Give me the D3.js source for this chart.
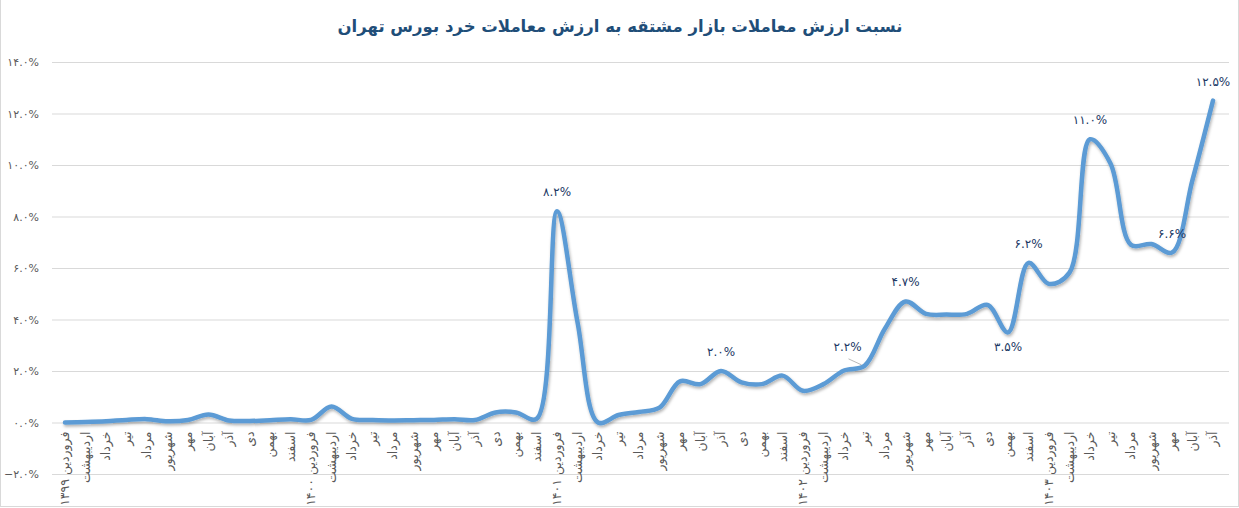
<!DOCTYPE html>
<html>
<head>
<meta charset="utf-8">
<script src="https://cdn.jsdelivr.net/npm/d3@7"></script>
<style>
  html, body { margin: 0; padding: 0; background: #fff; }
  svg { display: block; font-family: "DejaVu Sans", sans-serif; }
</style>
</head>
<body>
<div id="chart"></div>
<script>
// data
const monthNames = ['فروردین', 'اردیبهشت', 'خرداد', 'تیر', 'مرداد', 'شهریور', 'مهر', 'آبان', 'آذر', 'دی', 'بهمن', 'اسفند'];
const years = ['۱۳۹۹', '۱۴۰۰', '۱۴۰۱', '۱۴۰۲', '۱۴۰۳'];
const lastMonthCount = 9; // 1403 runs to Azar

const ratio = [
  0.0, 0.02, 0.05, 0.1, 0.13, 0.05, 0.1, 0.31, 0.08, 0.06, 0.09, 0.13,
  0.1, 0.62, 0.14, 0.1, 0.08, 0.09, 0.1, 0.13, 0.1, 0.39, 0.39, 0.14,
  8.2, 3.9, 0.0, 0.29, 0.41, 0.58, 1.6, 1.49, 2.0, 1.56, 1.49, 1.82,
  1.23, 1.49, 2.02, 2.2, 3.65, 4.7, 4.22, 4.19, 4.22, 4.57, 3.5, 6.2,
  5.38, 5.82, 11.0, 10.06, 6.9, 6.93, 6.6, 9.42, 12.5
];

// which points carry a value label, and where it sits
const labelled = [24, 32, 39, 41, 46, 47, 50, 54, 56];
const labelBelow = [46];
const labelLeader = [39];

const yTicks = [-2, 0, 2, 4, 6, 8, 10, 12, 14];

const title = 'نسبت ارزش معاملات بازار مشتقه به ارزش معاملات خرد بورس تهران';

// build category labels
const categories = [];
years.forEach((y, yi) => {
  const n = yi === years.length - 1 ? lastMonthCount : 12;
  for (let m = 0; m < n; m++) {
    categories.push(m === 0 ? monthNames[m] + ' ' + y : monthNames[m]);
  }
});

const faDigits = '۰۱۲۳۴۵۶۷۸۹';
const toFa = s => s.replace(/[0-9]/g, d => faDigits[+d]);
const pct = v => toFa(d3.format('.1f')(v)) + '%';

const width = 1239, height = 508;

const svg = d3.select('#chart')
  .append('svg')
  .attr('width', width)
  .attr('height', height);

// chart frame
svg.append('rect')
  .attr('x', 0.5).attr('y', -1)
  .attr('width', width - 1).attr('height', height - 0.5)
  .attr('fill', 'none')
  .attr('stroke', '#d9d9d9');

const x = d3.scalePoint()
  .domain(d3.range(categories.length))
  .range([65, 1213]);

const y = d3.scaleLinear()
  .domain([-2, 14])
  .range([474, 62]);

// gridlines + y labels
const yAxis = svg.append('g')
  .attr('transform', 'translate(52,0)')
  .call(d3.axisLeft(y).tickValues(yTicks).tickSize(-(1229 - 52)).tickPadding(13).tickFormat(pct));

yAxis.select('.domain').remove();
yAxis.selectAll('.tick line').attr('stroke', '#d9d9d9').attr('stroke-width', 1);
yAxis.selectAll('.tick text')
  .attr('fill', '#595959')
  .style('font-size', '11px')
  .style('font-family', '"DejaVu Sans", sans-serif');

// x labels, rotated
const xAxis = svg.append('g')
  .attr('transform', `translate(0,${y(0) + 9})`);

xAxis.selectAll('text')
  .data(categories)
  .enter()
  .append('text')
  .attr('transform', (d, i) => `translate(${x(i)},0) rotate(-90)`)
  .attr('dy', '0.35em')
  .attr('text-anchor', 'end')
  .attr('fill', '#595959')
  .style('font-size', '12.5px')
  .text(d => d);

// line with soft shadow
const defs = svg.append('defs');
const shadow = defs.append('filter')
  .attr('id', 'shadow')
  .attr('x', '-5%').attr('y', '-5%')
  .attr('width', '110%').attr('height', '110%');
shadow.append('feDropShadow')
  .attr('dx', 1).attr('dy', 2)
  .attr('stdDeviation', 1.5)
  .attr('flood-color', '#000')
  .attr('flood-opacity', 0.3);

const line = d3.line()
  .x((d, i) => x(i))
  .y(d => y(d))
  .curve(d3.curveCatmullRom.alpha(0.5));

svg.append('path')
  .datum(ratio)
  .attr('d', line)
  .attr('fill', 'none')
  .attr('stroke', '#5b9bd5')
  .attr('stroke-width', 4.5)
  .attr('stroke-linejoin', 'round')
  .attr('stroke-linecap', 'round')
  .attr('filter', 'url(#shadow)');

// value labels
const labels = svg.append('g');

labelled.forEach(i => {
  const px = x(i), py = y(ratio[i]);
  let lx = px, ly = py - 15;
  if (labelBelow.includes(i)) ly = py + 19;
  if (labelLeader.includes(i)) {
    lx = px - 17; ly = py - 15;
    labels.append('line')
      .attr('x1', px - 3).attr('y1', py - 1)
      .attr('x2', px - 16).attr('y2', py - 7)
      .attr('stroke', '#a6a6a6')
      .attr('stroke-width', 0.8);
  }
  labels.append('text')
    .attr('x', lx)
    .attr('y', ly)
    .attr('text-anchor', 'middle')
    .attr('fill', '#203864')
    .style('font-size', '12px')
    .text(pct(ratio[i]));
});

// title
svg.append('text')
  .attr('x', 620)
  .attr('y', 32)
  .attr('text-anchor', 'middle')
  .attr('fill', '#1f4e79')
  .style('font-size', '16.5px')
  .style('font-weight', 'bold')
  .text(title);
</script>
</body>
</html>
